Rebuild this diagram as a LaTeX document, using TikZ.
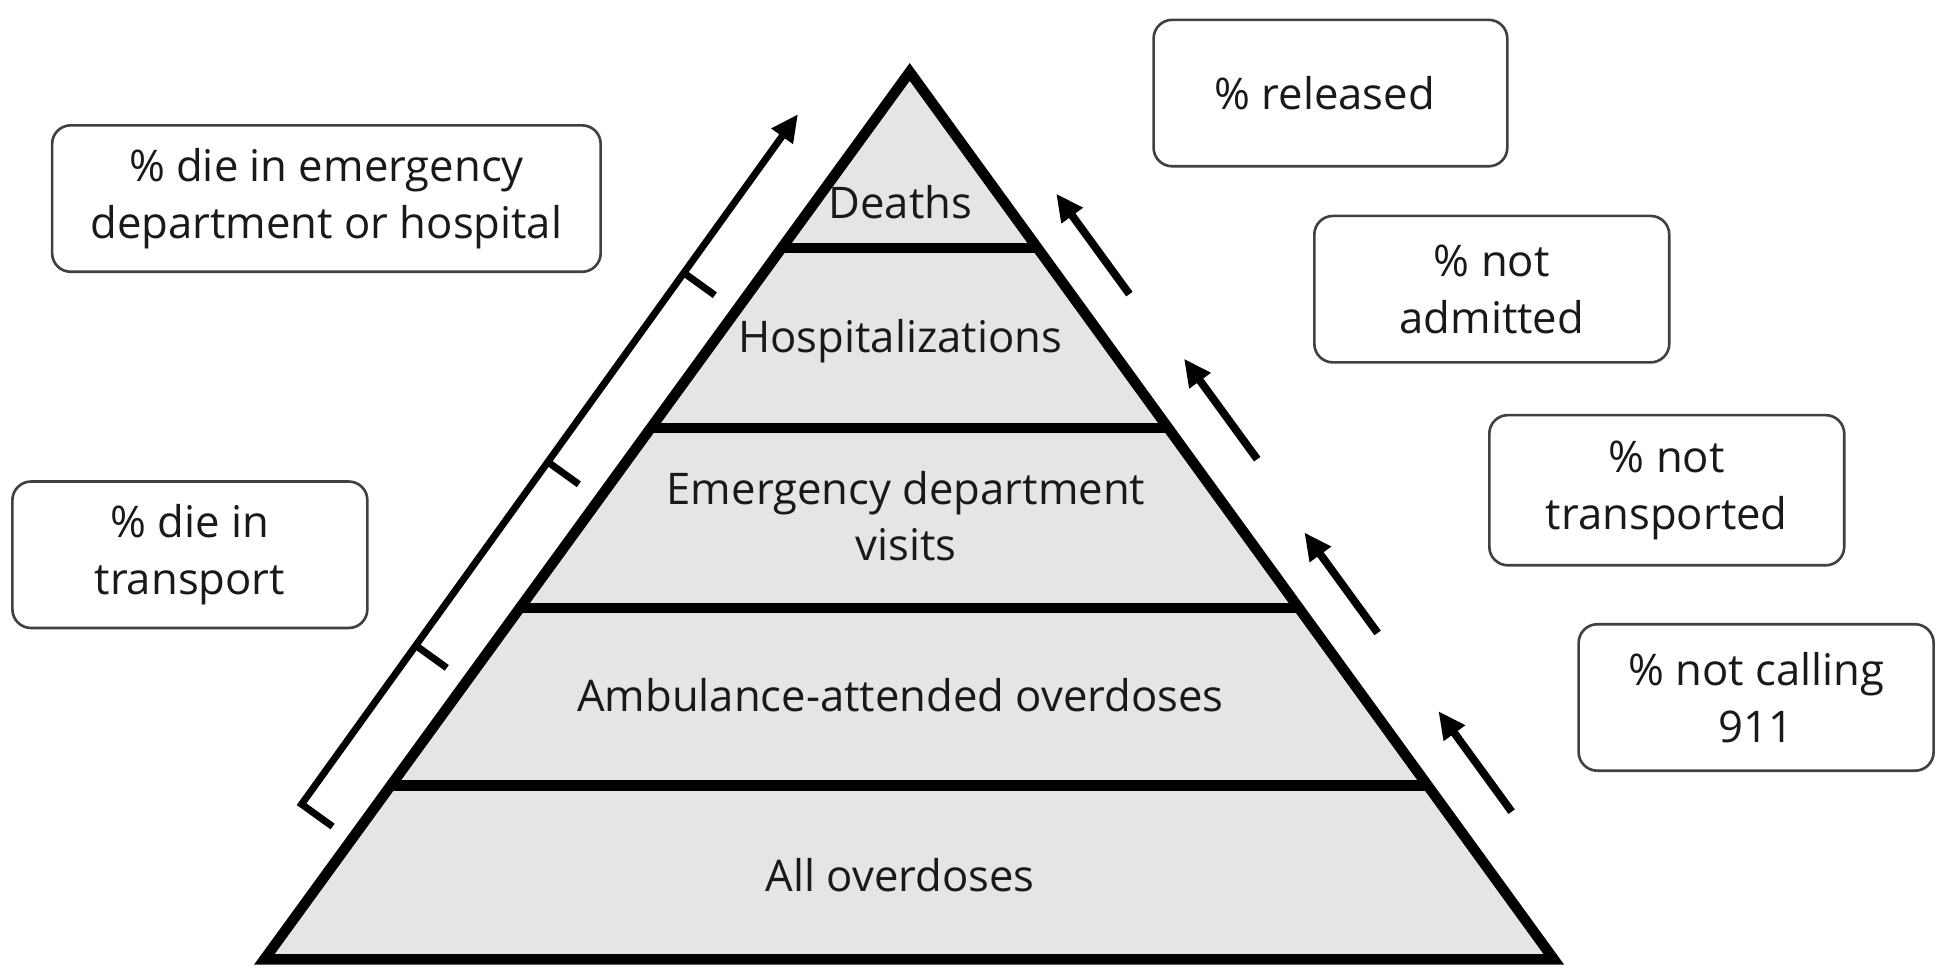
\documentclass[tikz,border=0pt]{standalone}
\usepackage{fontspec}
\setmainfont{Open Sans}
\usetikzlibrary{calc,arrows.meta}

\begin{document}
\begin{tikzpicture}[font=\fontsize{10}{13}\selectfont, text=black!90,
	tierline/.style = { line width=2.4pt, draw=black },
	tiertext/.style = { align=center },
	pctbox/.style = { rectangle, rounded corners=0.15cm, draw=black!75,
	line width=0.6pt, fill=white, align=center, inner sep=0pt,
	minimum width=2.86cm, minimum height=1.18cm },
	upflow/.style = { line width=1.8pt,
	-{Triangle[length=0.22cm, width=0.2cm]} },
	notch/.style = { line width=1.6pt } ]

  \useasboundingbox (0,0) rectangle (15.68,-7.89);

  \coordinate (apex) at (7.33,-0.58);
  \coordinate (bl) at (2.13,-7.73);
  \coordinate (br) at (12.52,-7.73);

  \fill [gray!20] (apex) -- (bl) -- (br) -- cycle;
  \draw [tierline] ($(apex)!0.1986!(bl)$) -- ($(apex)!0.1986!(br)$);
  \draw [tierline] ($(apex)!0.4014!(bl)$) -- ($(apex)!0.4014!(br)$);
  \draw [tierline] ($(apex)!0.6042!(bl)$) -- ($(apex)!0.6042!(br)$);
  \draw [tierline] ($(apex)!0.8042!(bl)$) -- ($(apex)!0.8042!(br)$);
  \draw [tierline] (apex) -- (bl) -- (br) -- cycle;

  \node [name=deaths, tiertext] at (7.30,-1.63) { Deaths };
  \node [name=hosp, tiertext] at (7.30,-2.75) { Hospitalizations };
  \node [name=edvisits, tiertext] at (7.30,-4.16)
	{ Emergency department\\visits };
  \node [name=ambulance, tiertext] at (7.30,-5.60)
	{ Ambulance-attended overdoses };
  \node [name=alloverdoses, tiertext] at (7.30,-7.05) { All overdoses };

  \node [name=dieed, pctbox, minimum width=4.42cm] at (2.63,-1.60)
	{ \% die in emergency\\department or hospital };
  \node [name=dietransport, pctbox] at (1.53,-4.47)
	{ \% die in\\transport };
  \node [name=released, pctbox, minimum width=2.85cm] at (10.72,-0.75)
	{ \% released };
  \node [name=notadmitted, pctbox] at (12.02,-2.33)
	{ \% not\\admitted };
  \node [name=nottransported, pctbox, minimum height=1.21cm]
	at (13.43,-3.95) { \% not\\transported };
  \node [name=notcalling, pctbox] at (14.15,-5.62)
	{ \% not calling\\911 };

  \coordinate (tail1) at (9.10,-2.37);
  \coordinate (head1) at (8.51,-1.56);
  \coordinate (tail2) at (10.13,-3.70);
  \coordinate (head2) at (9.54,-2.89);
  \coordinate (tail3) at (11.10,-5.10);
  \coordinate (head3) at (10.51,-4.29);
  \coordinate (tail4) at (12.18,-6.54);
  \coordinate (head4) at (11.59,-5.73);
  \draw [upflow] (tail1) -- (head1);
  \draw [upflow] (tail2) -- (head2);
  \draw [upflow] (tail3) -- (head3);
  \draw [upflow] (tail4) -- (head4);

  \coordinate (spanlow) at (2.43,-6.48);
  \coordinate (spantop) at (6.43,-0.92);
  \draw [upflow, line width=1.6pt] ($(spanlow)+(0.25,-0.18)$)
	-- (spanlow) -- (spantop);
  \draw [notch] ($(spanlow)!0.23!(spantop)$) -- +(0.25,-0.18);
  \draw [notch] ($(spanlow)!0.496!(spantop)$) -- +(0.25,-0.18);
  \draw [notch] ($(spanlow)!0.77!(spantop)$) -- +(0.25,-0.18);
\end{tikzpicture}
\end{document}
